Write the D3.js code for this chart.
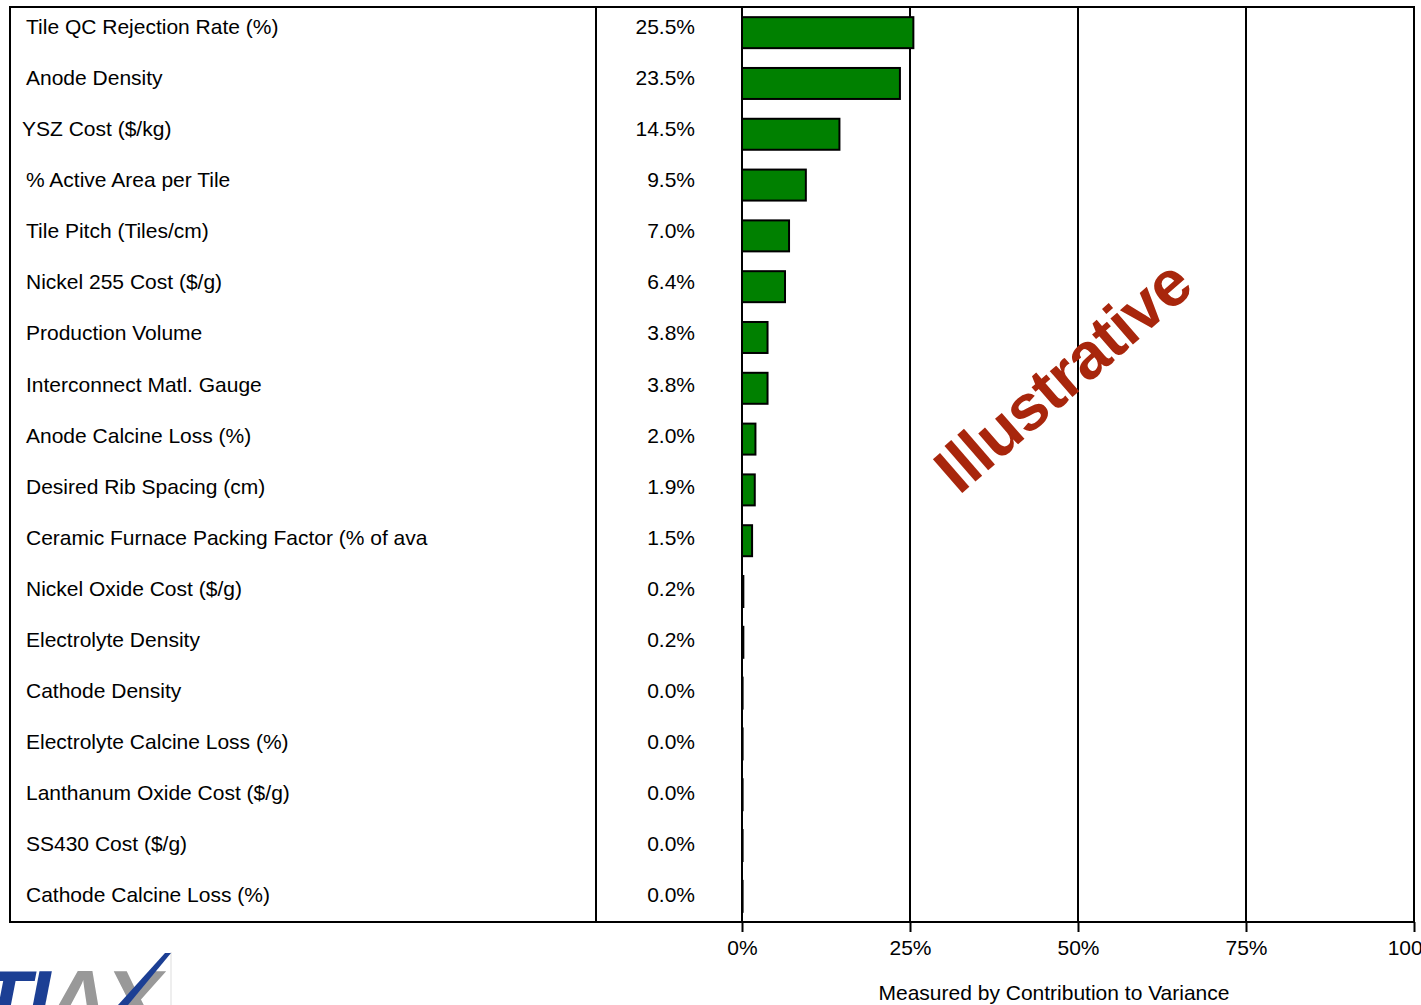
<!DOCTYPE html>
<html>
<head>
<meta charset="utf-8">
<script src="https://cdn.jsdelivr.net/npm/d3@7"></script>
<style>
  body { margin: 0; background: #fff; }
  svg { display: block; font-family: "Liberation Sans", Arial, sans-serif; }
</style>
</head>
<body>
<div id="chart"></div>
<script>
// sensitivity drivers, ranked by contribution to variance
var drivers = ["Tile QC Rejection Rate (%)", "Anode Density", "YSZ Cost ($/kg)",
  "% Active Area per Tile", "Tile Pitch (Tiles/cm)", "Nickel 255 Cost ($/g)",
  "Production Volume", "Interconnect Matl. Gauge", "Anode Calcine Loss (%)",
  "Desired Rib Spacing (cm)", "Ceramic Furnace Packing Factor (% of ava",
  "Nickel Oxide Cost ($/g)", "Electrolyte Density", "Cathode Density",
  "Electrolyte Calcine Loss (%)", "Lanthanum Oxide Cost ($/g)", "SS430 Cost ($/g)",
  "Cathode Calcine Loss (%)"];
var contribution = [25.5, 23.5, 14.5, 9.5, 7.0, 6.4, 3.8, 3.8, 2.0, 1.9, 1.5,
  0.2, 0.2, 0.0, 0.0, 0.0, 0.0, 0.0];
var xTicks = [0, 25, 50, 75, 100];

var W = 1421, H = 1005;
var box = {left: 10, right: 1414, top: 7, bottom: 922};
var divX = 596;
var fontSize = "21px";

var svg = d3.select("#chart").append("svg")
  .attr("width", W).attr("height", H);

var x = d3.scaleLinear().domain([0, 100]).range([742, 1414]);
var y = d3.scaleBand().domain(d3.range(drivers.length))
  .range([box.top, box.bottom]).paddingInner(0.39).paddingOuter(0.2);

// gridlines
svg.append("g").selectAll("line")
  .data(xTicks.slice(1, 4))
  .enter().append("line")
  .attr("x1", function(d) { return x(d); }).attr("x2", function(d) { return x(d); })
  .attr("y1", box.top).attr("y2", box.bottom)
  .style("stroke", "#000").style("stroke-width", 2);

// bars
svg.append("g").selectAll("rect")
  .data(contribution)
  .enter().append("rect")
  .attr("x", x(0))
  .attr("y", function(d, i) { return y(i); })
  .attr("width", function(d) { return Math.max(x(d) - x(0), 0.6); })
  .attr("height", y.bandwidth())
  .style("fill", "#008000")
  .style("stroke", "#000")
  .style("stroke-width", 2);

// outer frame, divider, zero line
svg.append("rect")
  .attr("x", box.left).attr("y", box.top)
  .attr("width", box.right - box.left).attr("height", box.bottom - box.top)
  .style("fill", "none").style("stroke", "#000").style("stroke-width", 2);
svg.append("line").attr("x1", divX).attr("x2", divX)
  .attr("y1", box.top).attr("y2", box.bottom)
  .style("stroke", "#000").style("stroke-width", 2);
svg.append("line").attr("x1", x(0)).attr("x2", x(0))
  .attr("y1", box.top).attr("y2", box.bottom)
  .style("stroke", "#000").style("stroke-width", 2);

// labels
var rowMid = function(i) { return y(i) + y.bandwidth() / 2; };
svg.append("g").selectAll("text")
  .data(drivers)
  .enter().append("text")
  .attr("x", function(d, i) { return i == 2 ? 22 : 26; })
  .attr("y", function(d, i) { return rowMid(i) + 1.5 + i * 0.25; })
  .text(function(d) { return d; })
  .style("font-size", fontSize).style("fill", "#000");

var fmt = d3.format(".1f");
svg.append("g").selectAll("text")
  .data(contribution)
  .enter().append("text")
  .attr("x", 695)
  .attr("y", function(d, i) { return rowMid(i) + 1.5 + i * 0.25; })
  .attr("text-anchor", "end")
  .text(function(d) { return fmt(d) + "%"; })
  .style("font-size", fontSize).style("fill", "#000");

// x axis
var xAxis = d3.axisBottom(x).tickValues(xTicks)
  .tickFormat(function(d) { return d + "%"; })
  .tickSize(10).tickPadding(8);
var ax = svg.append("g").attr("transform", "translate(0," + box.bottom + ")").call(xAxis);
ax.select(".domain").remove();
ax.selectAll("line").style("stroke", "#000").style("stroke-width", 2);
ax.selectAll("text").style("font-size", fontSize)
  .style("font-family", "Liberation Sans, Arial, sans-serif").style("fill", "#000");

svg.append("text").attr("x", 1054).attr("y", 1000)
  .attr("text-anchor", "middle")
  .text("Measured by Contribution to Variance")
  .style("font-size", fontSize);

// watermark
svg.append("text")
  .attr("transform", "translate(1066,380) rotate(-41)")
  .attr("text-anchor", "middle").attr("dominant-baseline", "middle")
  .text("Illustrative")
  .style("font-size", "65px").style("font-weight", "bold")
  .style("letter-spacing", "-1px").style("fill", "#a8260c");

// logo, cut off by the bottom edge
var logo = svg.append("g");
logo.append("line").attr("x1", 171).attr("y1", 952).attr("x2", 171).attr("y2", 1005)
  .style("stroke", "#ddd").style("stroke-width", 1);
var lt = logo.append("text").attr("x", -22).attr("y", 1030)
  .style("font-size", "86px").style("font-weight", "bold").style("font-style", "italic")
  .style("letter-spacing", "-4px");
lt.append("tspan").text("TI").style("fill", "#1c3f94");
lt.append("tspan").text("A").style("fill", "#999");
lt.append("tspan").text("X").style("fill", "#999");
logo.append("path")
  .attr("d", "M118,1005 L165,953 L171,953 L128,1005 Z")
  .style("fill", "#1c3f94");
</script>
</body>
</html>
